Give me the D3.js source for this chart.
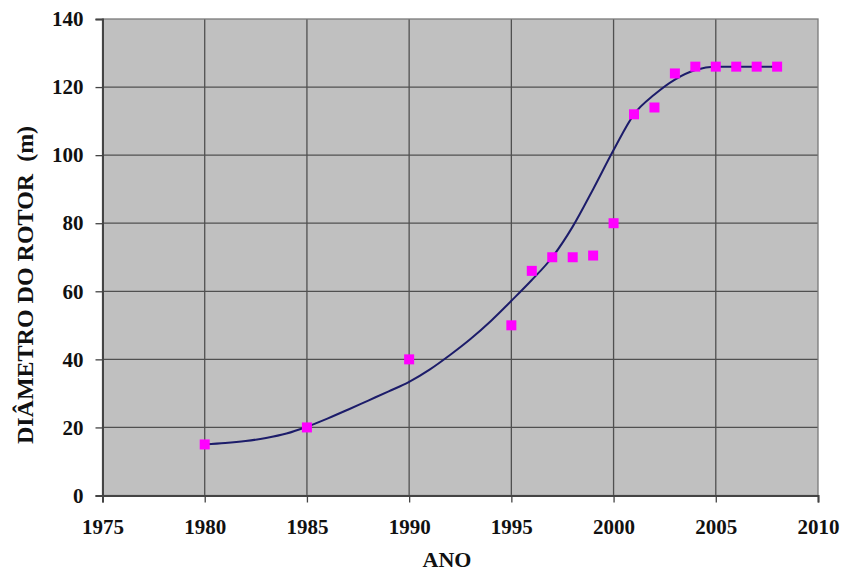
<!DOCTYPE html>
<html>
<head>
<meta charset="utf-8">
<script src="https://cdn.jsdelivr.net/npm/d3@7"></script>
<style>
  html, body { margin: 0; padding: 0; background: #ffffff; }
  svg { display: block; }
  text { font-family: "Liberation Serif", "Times New Roman", serif; font-weight: bold; fill: #111; white-space: pre; }
</style>
</head>
<body>
<svg id="chart" width="841" height="571"></svg>
<script>
// Observed rotor diameters by year
const years = [1980, 1985, 1990, 1995, 1996, 1997, 1998, 1999, 2000, 2001, 2002, 2003, 2004, 2005, 2006, 2007, 2008];
const diameters = [15, 20, 40, 50, 66, 70, 70, 70.5, 80, 112, 114, 124, 126, 126, 126, 126, 126];

// Smoothed trend curve
const trendYears = [1980, 1981, 1982, 1983, 1984, 1985, 1986, 1987, 1988, 1989, 1990, 1991, 1992, 1993, 1994, 1995, 1996, 1997, 1998, 1999, 2000, 2001, 2002, 2003, 2004, 2005, 2006, 2007, 2008];
const trendValues = [15, 15.4, 16.0, 16.9, 18.2, 20.2, 22.6, 25.2, 27.9, 30.6, 33.4, 37.0, 41.3, 46.0, 51.3, 57.2, 63.3, 70.0, 79.0, 90.0, 101.5, 112.0, 117.8, 122.2, 125.0, 126, 126, 126, 126];

const xTicks = [1975, 1980, 1985, 1990, 1995, 2000, 2005, 2010];
const yTicks = [0, 20, 40, 60, 80, 100, 120, 140];

const xLabel = "ANO";
const yLabel = "DIÂMETRO DO ROTOR  (m)";

const svg = d3.select("#chart");
const plotLeft = 102.5, plotRight = 818, plotTop = 19, plotBottom = 495.5;

const x = d3.scaleLinear().domain([1975, 2010]).range([plotLeft, plotRight]);
const y = d3.scaleLinear().domain([0, 140]).range([plotBottom, plotTop]);

// plot background
svg.append("rect")
  .attr("x", plotLeft).attr("y", plotTop)
  .attr("width", plotRight - plotLeft).attr("height", plotBottom - plotTop)
  .attr("fill", "#c0c0c0");

// grid lines
const grid = svg.append("g").attr("stroke", "#505050").attr("stroke-width", 1.3);
grid.selectAll(".gx").data(xTicks.slice(1, -1)).join("line")
  .attr("x1", d => x(d)).attr("x2", d => x(d))
  .attr("y1", plotTop).attr("y2", plotBottom);
grid.selectAll(".gy").data(yTicks.slice(1, -1)).join("line")
  .attr("x1", plotLeft).attr("x2", plotRight)
  .attr("y1", d => y(d)).attr("y2", d => y(d));

// plot frame
svg.append("rect")
  .attr("x", plotLeft).attr("y", plotTop)
  .attr("width", plotRight - plotLeft).attr("height", plotBottom - plotTop)
  .attr("fill", "none").attr("stroke", "#7a7a7a").attr("stroke-width", 1.3);

// axes
const xAxis = d3.axisBottom(x).tickValues(xTicks).tickFormat(d3.format("d")).tickSize(7).tickPadding(17);
const yAxis = d3.axisLeft(y).tickValues(yTicks).tickFormat(d3.format("d")).tickSize(7).tickPadding(12);

const gx = svg.append("g").attr("transform", `translate(0,${plotBottom})`).call(xAxis);
const gy = svg.append("g").attr("transform", `translate(${plotLeft},0)`).call(yAxis);
[gx, gy].forEach(g => {
  g.select(".domain").attr("stroke", "#444").attr("stroke-width", 2);
  g.selectAll(".tick line").attr("stroke", "#444").attr("stroke-width", 1.3);
  g.selectAll(".tick text")
    .attr("font-family", "Liberation Serif, serif")
    .attr("font-weight", "bold")
    .attr("font-size", 21)
    .attr("fill", "#111");
});

// axis titles
svg.append("text")
  .attr("x", 447).attr("y", 567)
  .attr("text-anchor", "middle")
  .attr("font-size", 22)
  .text(xLabel);

svg.append("text")
  .attr("transform", `translate(33,285) rotate(-90)`)
  .attr("text-anchor", "middle")
  .attr("font-size", 24)
  .text(yLabel);

// trend curve
const line = d3.line()
  .x((d, i) => x(trendYears[i]))
  .y(d => y(d))
  .curve(d3.curveMonotoneX);

svg.append("path")
  .datum(trendValues)
  .attr("d", line)
  .attr("fill", "none")
  .attr("stroke", "#1c1c6a")
  .attr("stroke-width", 2);

// observed points
svg.append("g").selectAll("rect")
  .data(diameters)
  .join("rect")
  .attr("x", (d, i) => x(years[i]) - 5)
  .attr("y", d => y(d) - 5)
  .attr("width", 10).attr("height", 10)
  .attr("fill", "#ff00ff");
</script>
</body>
</html>
